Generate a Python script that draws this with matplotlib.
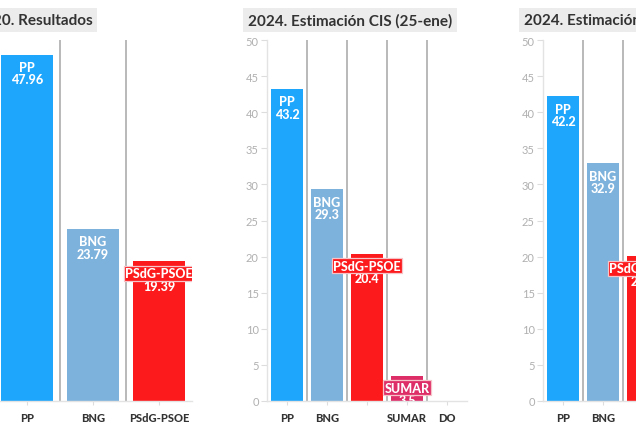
import matplotlib.pyplot as plt

plt.rcParams['font.family'] = ['Lato', 'DejaVu Sans']

# Data for the three panels
titles = ['2020. Resultados', '2024. Estimación CIS (25-ene)', '2024. Estimación']

parties_2020 = ['PP', 'BNG', 'PSdG-PSOE']
values_2020 = [47.96, 23.79, 19.39]
ticks_2020 = ['PP', 'BNG', 'PSdG-PSOE']
labels_2020 = ['47.96', '23.79', '19.39']

parties_cis = ['PP', 'BNG', 'PSdG-PSOE', 'SUMAR', 'DO']
values_cis = [43.2, 29.3, 20.4, 3.5, 0.0]
ticks_cis = ['PP', 'BNG', '', 'SUMAR', 'DO']
labels_cis = ['43.2', '29.3', '20.4', '3.5', '']

parties_est = ['PP', 'BNG', 'PSdG-PSOE']
values_est = [42.2, 32.9, 20.1]
ticks_est = ['PP', 'BNG', '']
labels_est = ['42.2', '32.9', '20.1']

party_colors = {
    'PP': '#1ea6fd',
    'BNG': '#7db2dc',
    'PSdG-PSOE': '#fc1a1c',
    'SUMAR': '#de2e68',
    'DO': '#999999',
}

W, H = 636, 427
fig = plt.figure(figsize=(W / 100, H / 100), dpi=100)

# axes placement in pixels: (left, right, number of category slots)
layout = [(-6, 192, 3), (267, 467, 5), (543, 743, 5)]
bottom_px, top_px = 402, 41

panels = [
    (parties_2020, values_2020, ticks_2020, labels_2020),
    (parties_cis, values_cis, ticks_cis, labels_cis),
    (parties_est, values_est, ticks_est, labels_est),
]

for k, ((left, right, nslots), (parties, values, ticks, labels), title) in enumerate(zip(layout, panels, titles)):
    ax = fig.add_axes([left / W, (H - bottom_px) / H, (right - left) / W, (bottom_px - top_px) / H])
    x = list(range(len(parties)))
    cols = [party_colors[p] for p in parties]
    ax.bar(x, values, width=0.8, color=cols, zorder=2)

    # grey separators between categories
    for i in range(nslots - 1):
        ax.axvline(i + 0.5, color='#b3b3b3', lw=1.3, zorder=1)

    # labels inside bars
    for xi, p, v, lab, c in zip(x, parties, values, labels, cols):
        if v <= 0:
            continue
        box = None
        if len(p) > 4:
            box = dict(facecolor=c, edgecolor='#f6c4c8', lw=0.9, boxstyle='square,pad=0.12')
        ax.annotate(p, (xi, v), xytext=(0, -4.5), textcoords='offset points',
                    ha='center', va='top', color='white', fontsize=9,
                    fontweight='black', bbox=box, annotation_clip=False,
                    clip_on=True, zorder=4)
        ax.annotate(lab, (xi, v), xytext=(0, -13.5), textcoords='offset points',
                    ha='center', va='top', color='white', fontsize=9,
                    fontweight='black', annotation_clip=False, clip_on=True, zorder=3)

    ax.set_xlim(-0.5, nslots - 0.5)
    ax.set_ylim(0, 50)
    ax.set_yticks(range(0, 51, 5))
    ax.set_xticks(x)
    ax.set_xticklabels(ticks, fontsize=8, fontweight='black', color='#333333')
    ax.tick_params(axis='x', length=3, color='#dddddd', pad=5)
    ax.tick_params(axis='y', length=4, color='#dddddd', labelcolor='#b0b0b0',
                   labelsize=8, pad=2)
    if k == 0:
        # y axis of the first panel lies outside the visible area
        ax.tick_params(axis='y', labelleft=False)
    for s in ['top', 'right']:
        ax.spines[s].set_visible(False)
    for s in ['left', 'bottom']:
        ax.spines[s].set_color('#e3e3e3')
        ax.spines[s].set_linewidth(1)

    # panel title with grey background box
    fig.text((left - 19) / W, (H - 21) / H, title, ha='left', va='center',
             fontsize=11, fontweight='bold', color='#333333',
             bbox=dict(facecolor='#ececec', edgecolor='none', boxstyle='square,pad=0.3'))

fig.savefig('out.png', dpi=100)
